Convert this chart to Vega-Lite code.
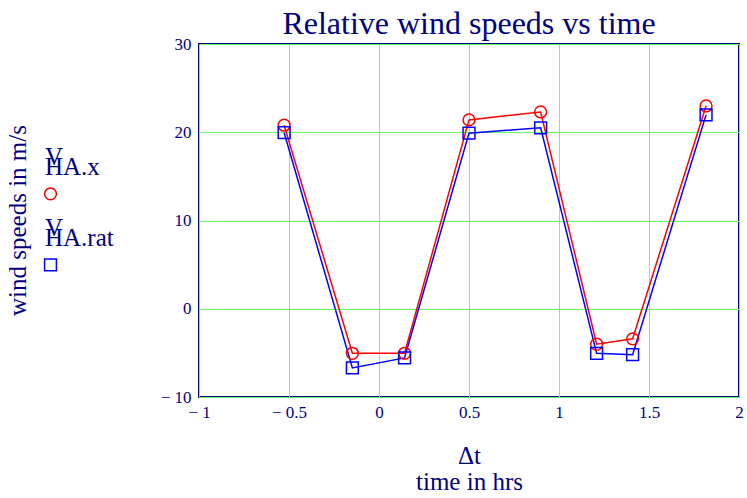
{
  "$schema": "https://vega.github.io/schema/vega-lite/v6.json",
  "autosize": {"type": "none"},
  "padding": {"left": 199, "top": 44, "right": 8, "bottom": 101},
  "width": 540,
  "height": 353,
  "background": "white",
  "title": {
    "text": "Relative wind speeds vs time",
    "font": "Liberation Serif",
    "fontSize": 32,
    "fontWeight": "normal",
    "color": "#000080",
    "anchor": "middle",
    "offset": -6
  },
  "config": {
    "view": {"stroke": "#000080", "strokeWidth": 2},
    "axis": {"gridColor": "#66ff66", "gridOpacity": 1}
  },
  "data": {
    "values": [
      {"t": -0.527, "v": 20.8, "series": "HA.x"},
      {"t": -0.148, "v": -5.05, "series": "HA.x"},
      {"t": 0.142, "v": -5.05, "series": "HA.x"},
      {"t": 0.5, "v": 21.4, "series": "HA.x"},
      {"t": 0.898, "v": 22.3, "series": "HA.x"},
      {"t": 1.209, "v": -4.02, "series": "HA.x"},
      {"t": 1.409, "v": -3.41, "series": "HA.x"},
      {"t": 1.817, "v": 22.98, "series": "HA.x"},
      {"t": -0.527, "v": 19.95, "series": "HA.rat"},
      {"t": -0.148, "v": -6.7, "series": "HA.rat"},
      {"t": 0.142, "v": -5.57, "series": "HA.rat"},
      {"t": 0.5, "v": 19.9, "series": "HA.rat"},
      {"t": 0.898, "v": 20.5, "series": "HA.rat"},
      {"t": 1.209, "v": -5.05, "series": "HA.rat"},
      {"t": 1.409, "v": -5.2, "series": "HA.rat"},
      {"t": 1.817, "v": 21.97, "series": "HA.rat"}
    ]
  },
  "encoding": {
    "x": {
      "field": "t",
      "type": "quantitative",
      "scale": {"domain": [-1, 2], "nice": false, "zero": false},
      "axis": {
        "values": [-1, -0.5, 0, 0.5, 1, 1.5, 2],
        "format": ".2~f",
        "labelExpr": "replace(datum.label, '−', '− ')",
        "labelFont": "Liberation Serif",
        "labelFontSize": 17,
        "labelColor": "#000080",
        "labelPadding": 7,
        "labelFlush": false,
        "labelOverlap": false,
        "ticks": false,
        "domain": false,
        "grid": true,
        "gridColor": "#66ff66",
        "gridOpacity": 1,
        "gridWidth": 1,
        "title": ["Δt  ", "time in hrs"],
        "titleFont": "Liberation Serif",
        "titleFontSize": 25,
        "titleFontWeight": "normal",
        "titleColor": "#000080",
        "titleLineHeight": 26,
        "titleBaseline": "alphabetic",
        "titleY": 66
      }
    },
    "y": {
      "field": "v",
      "type": "quantitative",
      "scale": {"domain": [-10, 30], "nice": false, "zero": false},
      "axis": {
        "values": [-10, 0, 10, 20, 30],
        "format": ".2~f",
        "labelExpr": "replace(datum.label, '−', '− ')",
        "labelFont": "Liberation Serif",
        "labelFontSize": 17,
        "labelColor": "#000080",
        "labelPadding": 8,
        "labelFlush": false,
        "labelOverlap": false,
        "ticks": false,
        "domain": false,
        "grid": true,
        "gridColor": "#66ff66",
        "gridOpacity": 1,
        "gridWidth": 1,
        "title": "wind speeds in m/s",
        "titleFont": "Liberation Serif",
        "titleFontSize": 25,
        "titleFontWeight": "normal",
        "titleColor": "#000080",
        "titleAngle": 270,
        "titleBaseline": "alphabetic",
        "titleAlign": "center",
        "titleX": -174,
        "titleY": 176
      }
    },
    "color": {
      "field": "series",
      "type": "nominal",
      "scale": {"domain": ["HA.x", "HA.rat"], "range": ["#ff0000", "#0000ff"]},
      "legend": {
        "title": " ",
        "titleFontSize": 2,
        "titlePadding": 86,
        "orient": "left",
        "offset": -109,
        "padding": 0,
        "symbolSize": 140,
        "symbolStrokeWidth": 1.5,
        "labelFont": "Liberation Serif",
        "labelFontSize": 25,
        "labelColor": "#000080",
        "labelBaseline": "top",
        "labelOffset": 0,
        "labelLimit": 300,
        "rowPadding": -6,
        "labelExpr": "['V', '    ' + datum.label]",
        "encode": {
          "labels": {
            "update": {
              "lineHeight": {"value": 10}
            }
          },
          "symbols": {
            "update": {
              "x": {"value": 30.5},
              "y": {"value": 61.8},
              "fill": {"value": "transparent"},
              "strokeWidth": {"value": 1.5},
              "opacity": {"value": 1}
            }
          }
        }
      }
    }
  },
  "layer": [
    {
      "mark": {"type": "line", "strokeWidth": 1.5}
    },
    {
      "mark": {"type": "point", "filled": false, "strokeWidth": 1.5, "opacity": 1, "size": 140},
      "encoding": {
        "shape": {
          "field": "series",
          "type": "nominal",
          "scale": {"domain": ["HA.x", "HA.rat"], "range": ["circle", "square"]}
        }
      }
    }
  ]
}
